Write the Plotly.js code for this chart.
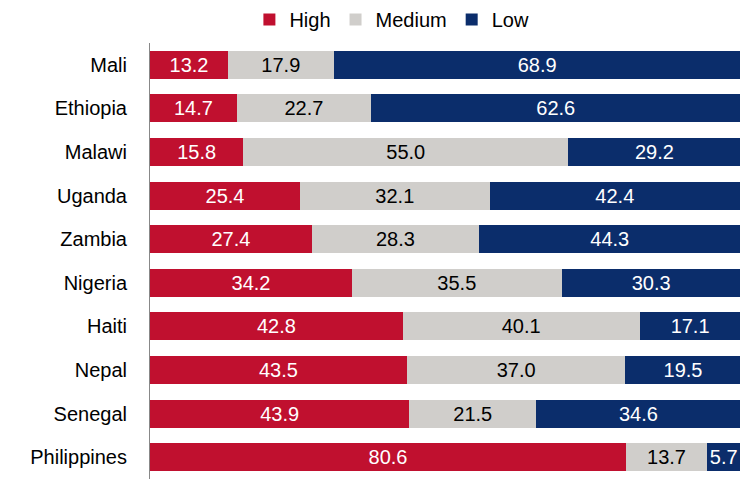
<!DOCTYPE html>
<html>
<head>
<script src="https://cdn.plot.ly/plotly-3.0.1.min.js"></script>
<style>body{margin:0}#myDiv{width:745px;height:479px}</style>
</head>
<body>
<div id="myDiv"></div>
<script>
var countries = ["Mali","Ethiopia","Malawi","Uganda","Zambia","Nigeria","Haiti","Nepal","Senegal","Philippines"];
var high = [13.2,14.7,15.8,25.4,27.4,34.2,42.8,43.5,43.9,80.6];
var medium = [17.9,22.7,55.0,32.1,28.3,35.5,40.1,37.0,21.5,13.7];
var low = [68.9,62.6,29.2,42.4,44.3,30.3,17.1,19.5,34.6,5.7];

function makeTrace(vals, name, color, txtColor) {
  return {
    y: countries, x: vals, name: name, type: 'bar', orientation: 'h',
    marker: {color: color},
    text: vals.map(function(v){ return v.toFixed(1); }),
    textposition: 'inside', insidetextanchor: 'middle', textangle: 0,
    constraintext: 'none',
    textfont: {color: txtColor, size: 20, family: 'Liberation Sans, Arial'},
    hoverinfo: 'none'
  };
}

var data = [
  makeTrace(high, 'High', '#C0102F', '#ffffff'),
  makeTrace(medium, 'Medium', '#D0CECB', '#000000'),
  makeTrace(low, 'Low', '#0B2D6B', '#ffffff')
];

var layout = {
  barmode: 'stack',
  bargap: 0.36,
  margin: {l: 150, r: 5, t: 42, b: 0},
  font: {family: 'Liberation Sans, Arial', size: 20, color: '#000'},
  showlegend: true,
  legend: {orientation: 'h', x: 0.41, xanchor: 'center', y: 1.01, yanchor: 'bottom',
    font: {size: 20}, traceorder: 'normal', itemwidth: 30, tracegroupgap: 0},
  xaxis: {range: [0, 99.9], showticklabels: false, showgrid: false, zeroline: false, fixedrange: true},
  yaxis: {autorange: 'reversed', showgrid: false, showline: true, linecolor: '#888', linewidth: 1,
    ticks: '', ticklabelstandoff: 18, tickfont: {size: 20}},
  paper_bgcolor: '#fff', plot_bgcolor: '#fff'
};

Plotly.newPlot('myDiv', data, layout, {displayModeBar: false});
</script>
</body>
</html>
